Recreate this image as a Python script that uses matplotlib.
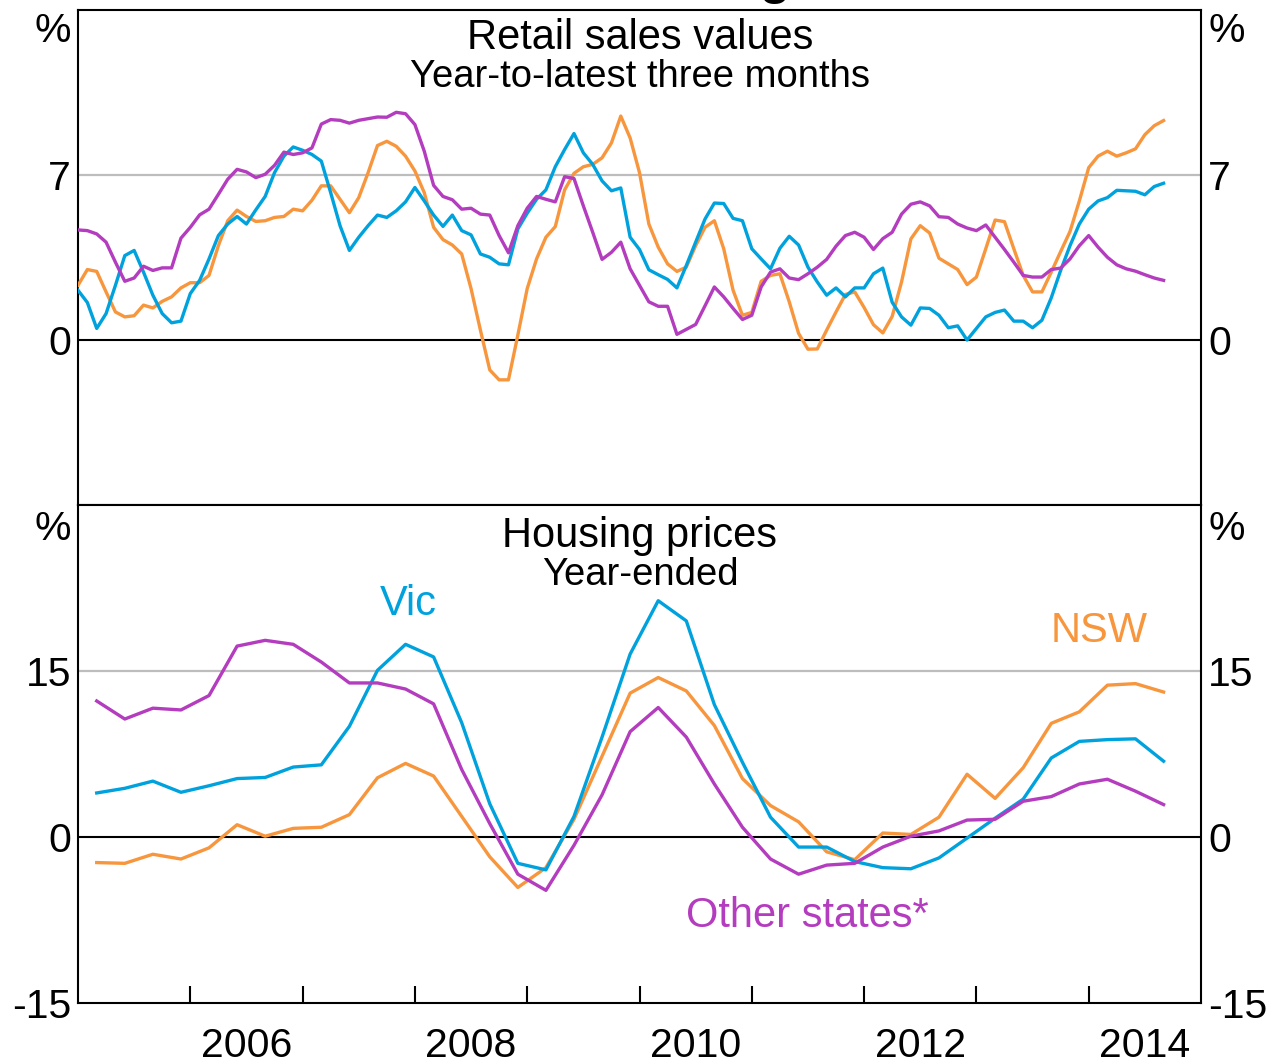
import numpy as np
import matplotlib
matplotlib.use("Agg")
import matplotlib.pyplot as plt
from matplotlib.ticker import FixedLocator, NullFormatter

# ---------------- data ----------------
# Retail sales values, year-to-latest three months (%), monthly Jan 2005 .. Sep 2014
retail_start = 2005.0
retail_nsw = [2.32, 2.99, 2.91, 2.04, 1.19, 0.98, 1.03, 1.48, 1.36, 1.64, 1.83, 2.21,
              2.43, 2.43, 2.74, 4.00, 5.06, 5.51, 5.24, 5.03, 5.06, 5.20, 5.24, 5.55,
              5.48, 5.93, 6.54, 6.54, 5.97, 5.40, 6.04, 7.10, 8.25, 8.43, 8.22, 7.80,
              7.17, 6.25, 4.78, 4.26, 4.03, 3.65, 2.18, 0.42, -1.27, -1.69, -1.69, 0.21,
              2.18, 3.44, 4.36, 4.81, 6.37, 7.07, 7.35, 7.45, 7.73, 8.36, 9.50, 8.57,
              7.10, 4.92, 3.94, 3.23, 2.91, 3.09, 4.00, 4.78, 5.06, 3.87, 2.11, 1.05,
              1.17, 2.49, 2.74, 2.81, 1.62, 0.28, -0.39, -0.38, 0.42, 1.19, 1.93, 2.04,
              1.38, 0.65, 0.30, 1.00, 2.46, 4.29, 4.85, 4.54, 3.47, 3.23, 2.99, 2.35,
              2.67, 3.87, 5.09, 5.02, 3.87, 2.74, 2.04, 2.04, 2.88, 3.75, 4.60, 5.90,
              7.31, 7.80, 8.01, 7.80, 7.94, 8.11, 8.71, 9.09, 9.31]
retail_vic = [2.11, 1.59, 0.49, 1.12, 2.32, 3.58, 3.80, 2.88, 1.90, 1.12, 0.73, 0.80,
              1.97, 2.53, 3.44, 4.43, 4.92, 5.24, 4.92, 5.52, 6.09, 7.10, 7.80, 8.19,
              8.05, 7.87, 7.59, 6.25, 4.85, 3.80, 4.36, 4.85, 5.30, 5.20, 5.48, 5.86,
              6.47, 5.90, 5.30, 4.82, 5.30, 4.64, 4.46, 3.65, 3.51, 3.23, 3.19, 4.71,
              5.38, 5.97, 6.37, 7.35, 8.08, 8.76, 7.94, 7.45, 6.75, 6.33, 6.45, 4.36,
              3.84, 2.98, 2.77, 2.57, 2.21, 3.16, 4.15, 5.13, 5.81, 5.79, 5.16, 5.06,
              3.87, 3.44, 3.02, 3.89, 4.40, 4.03, 3.09, 2.46, 1.90, 2.21, 1.83, 2.21,
              2.21, 2.81, 3.05, 1.60, 0.98, 0.63, 1.36, 1.34, 1.05, 0.52, 0.60, 0.00,
              0.49, 0.98, 1.17, 1.27, 0.80, 0.80, 0.52, 0.84, 1.79, 2.95, 4.00, 4.92,
              5.55, 5.90, 6.04, 6.35, 6.33, 6.31, 6.16, 6.51, 6.65]
retail_other = [4.67, 4.64, 4.50, 4.15, 3.30, 2.49, 2.63, 3.13, 2.95, 3.06, 3.06, 4.32,
                4.78, 5.31, 5.55, 6.18, 6.82, 7.24, 7.13, 6.89, 7.03, 7.41, 7.97, 7.87,
                7.94, 8.15, 9.16, 9.35, 9.32, 9.20, 9.32, 9.39, 9.46, 9.45, 9.66, 9.60,
                9.14, 8.01, 6.56, 6.09, 5.95, 5.55, 5.59, 5.34, 5.30, 4.43, 3.70, 4.85,
                5.59, 6.09, 5.97, 5.86, 6.93, 6.85, 5.69, 4.57, 3.42, 3.72, 4.15, 3.02,
                2.32, 1.62, 1.43, 1.43, 0.24, 0.45, 0.66, 1.45, 2.25, 1.83, 1.34, 0.87,
                1.05, 2.25, 2.88, 3.02, 2.63, 2.56, 2.81, 3.09, 3.42, 3.98, 4.43, 4.57,
                4.36, 3.84, 4.30, 4.57, 5.34, 5.76, 5.86, 5.69, 5.23, 5.20, 4.92, 4.75,
                4.64, 4.88, 4.36, 3.84, 3.30, 2.74, 2.67, 2.67, 2.99, 3.05, 3.44, 4.00,
                4.43, 3.94, 3.51, 3.19, 3.02, 2.92, 2.77, 2.63, 2.53]

# Housing prices, year-ended (%), quarterly Mar 2005 .. Sep 2014
housing_start = 2005.0 + 2 / 12
housing_nsw = [-2.31, -2.38, -1.56, -1.99, -0.98, 1.11, 0.07, 0.78, 0.88, 2.02,
               5.35, 6.65, 5.51, 1.86, -1.79, -4.56, -2.77, 1.60, 7.30, 13.00,
               14.41, 13.20, 10.07, 5.28, 2.84, 1.37, -1.34, -2.05, 0.36, 0.23,
               1.79, 5.67, 3.49, 6.26, 10.27, 11.31, 13.72, 13.86, 13.10]
housing_vic = [3.98, 4.40, 5.05, 4.04, 4.63, 5.28, 5.38, 6.32, 6.52, 10.00,
               15.06, 17.41, 16.27, 10.33, 3.00, -2.38, -2.97, 1.86, 9.03, 16.53,
               21.35, 19.53, 11.96, 6.75, 1.79, -0.91, -0.91, -2.22, -2.77, -2.87,
               -1.89, -0.10, 1.70, 3.42, 7.14, 8.64, 8.80, 8.87, 6.85]
housing_other = [12.29, 10.66, 11.64, 11.48, 12.78, 17.25, 17.77, 17.41, 15.81, 13.92,
                 13.92, 13.37, 12.03, 6.10, 1.21, -3.36, -4.82, -0.75, 3.81, 9.52,
                 11.70, 9.03, 4.79, 0.88, -1.99, -3.36, -2.54, -2.38, -0.91, 0.07,
                 0.55, 1.53, 1.60, 3.23, 3.65, 4.79, 5.22, 4.14, 2.93]

series_labels = ["NSW", "Vic", "Other states*"]
top_title = "Retail sales values"
top_subtitle = "Year-to-latest three months"
bottom_title = "Housing prices"
bottom_subtitle = "Year-ended"
top_yticks = [0, 7]
bottom_yticks = [-15, 0, 15]
year_labels = [2006, 2008, 2010, 2012, 2014]

# ---------------- style ----------------
C_NSW = "#F7963D"
C_VIC = "#00A2DD"
C_OTH = "#B43CBE"
GRID = "#BDBDBD"
plt.rcParams["font.family"] = ["Liberation Sans", "DejaVu Sans"]
plt.rcParams["axes.unicode_minus"] = False

W, H = 1274, 1064
fig = plt.figure(figsize=(W / 100, H / 100), dpi=100)
fig.patch.set_facecolor("white")

L, R = 78, 1201
ax1 = fig.add_axes([L / W, 1 - 505 / H, (R - L) / W, (505 - 10) / H])
ax2 = fig.add_axes([L / W, 1 - 1003 / H, (R - L) / W, (1003 - 505) / H])

x_ret = retail_start + np.arange(len(retail_nsw)) / 12.0
x_hou = housing_start + np.arange(len(housing_nsw)) * 0.25

LW = 2.4
TICK_FS = 29.5
LABEL_FS = 30

def style_axes(ax, ylim, yticks, grid_val):
    ax.set_xlim(2005, 2015)
    ax.set_ylim(*ylim)
    for s in ax.spines.values():
        s.set_linewidth(1.5)
        s.set_color("black")
    ax.axhline(grid_val, color=GRID, lw=1.6, zorder=1)
    ax.axhline(0, color="black", lw=1.5, zorder=1)
    ax.set_yticks(yticks)
    ax.tick_params(axis="y", which="both", length=0, labelsize=TICK_FS,
                   labelleft=True, labelright=True, pad=5)

style_axes(ax1, (-7, 14), top_yticks, 7)
style_axes(ax2, (-15, 30), bottom_yticks, 15)

ax1.plot(x_ret, retail_nsw, color=C_NSW, lw=LW, zorder=3)
ax1.plot(x_ret, retail_vic, color=C_VIC, lw=LW, zorder=4)
ax1.plot(x_ret, retail_other, color=C_OTH, lw=LW, zorder=5)

ax2.plot(x_hou, housing_nsw, color=C_NSW, lw=LW, zorder=3)
ax2.plot(x_hou, housing_vic, color=C_VIC, lw=LW, zorder=4)
ax2.plot(x_hou, housing_other, color=C_OTH, lw=LW, zorder=5)

# x axis
ax1.tick_params(axis="x", which="both", length=0, labelbottom=False)
ax2.xaxis.set_major_locator(FixedLocator(list(range(2006, 2015))))
ax2.xaxis.set_major_formatter(NullFormatter())
ax2.xaxis.set_minor_locator(FixedLocator([y + 0.5 for y in year_labels]))
ax2.set_xticklabels([str(y) for y in year_labels], minor=True)
ax2.tick_params(axis="x", which="major", direction="in", length=12, width=1.5)
ax2.tick_params(axis="x", which="minor", length=0, labelsize=TICK_FS, pad=17)

def px(x, y):
    return x / W, 1 - y / H

# units
for (xx, yy) in [(71, 42), (1209, 42), (71, 540), (1209, 540)]:
    fig.text(*px(xx, yy), "%", fontsize=TICK_FS, ha="right" if xx < 600 else "left",
             va="baseline")

# titles
fig.text(*px(640, 49), top_title, fontsize=30, ha="center", va="baseline")
fig.text(*px(640, 87), top_subtitle, fontsize=27.5, ha="center", va="baseline")
fig.text(*px(640, 547), bottom_title, fontsize=30, ha="center", va="baseline")
fig.text(*px(640, 585), bottom_subtitle, fontsize=27.5, ha="center", va="baseline")

# clipped main title remnant
fig.text(*px(775, -6), "g", fontsize=36, fontweight="bold", ha="center", va="baseline")

# series labels
fig.text(*px(408, 615), series_labels[1], color=C_VIC, fontsize=LABEL_FS, ha="center", va="baseline")
fig.text(*px(1099, 642), series_labels[0], color=C_NSW, fontsize=LABEL_FS, ha="center", va="baseline")
fig.text(*px(807, 927), series_labels[2], color=C_OTH, fontsize=LABEL_FS, ha="center", va="baseline")

fig.savefig("out.png", dpi=100, facecolor="white")
